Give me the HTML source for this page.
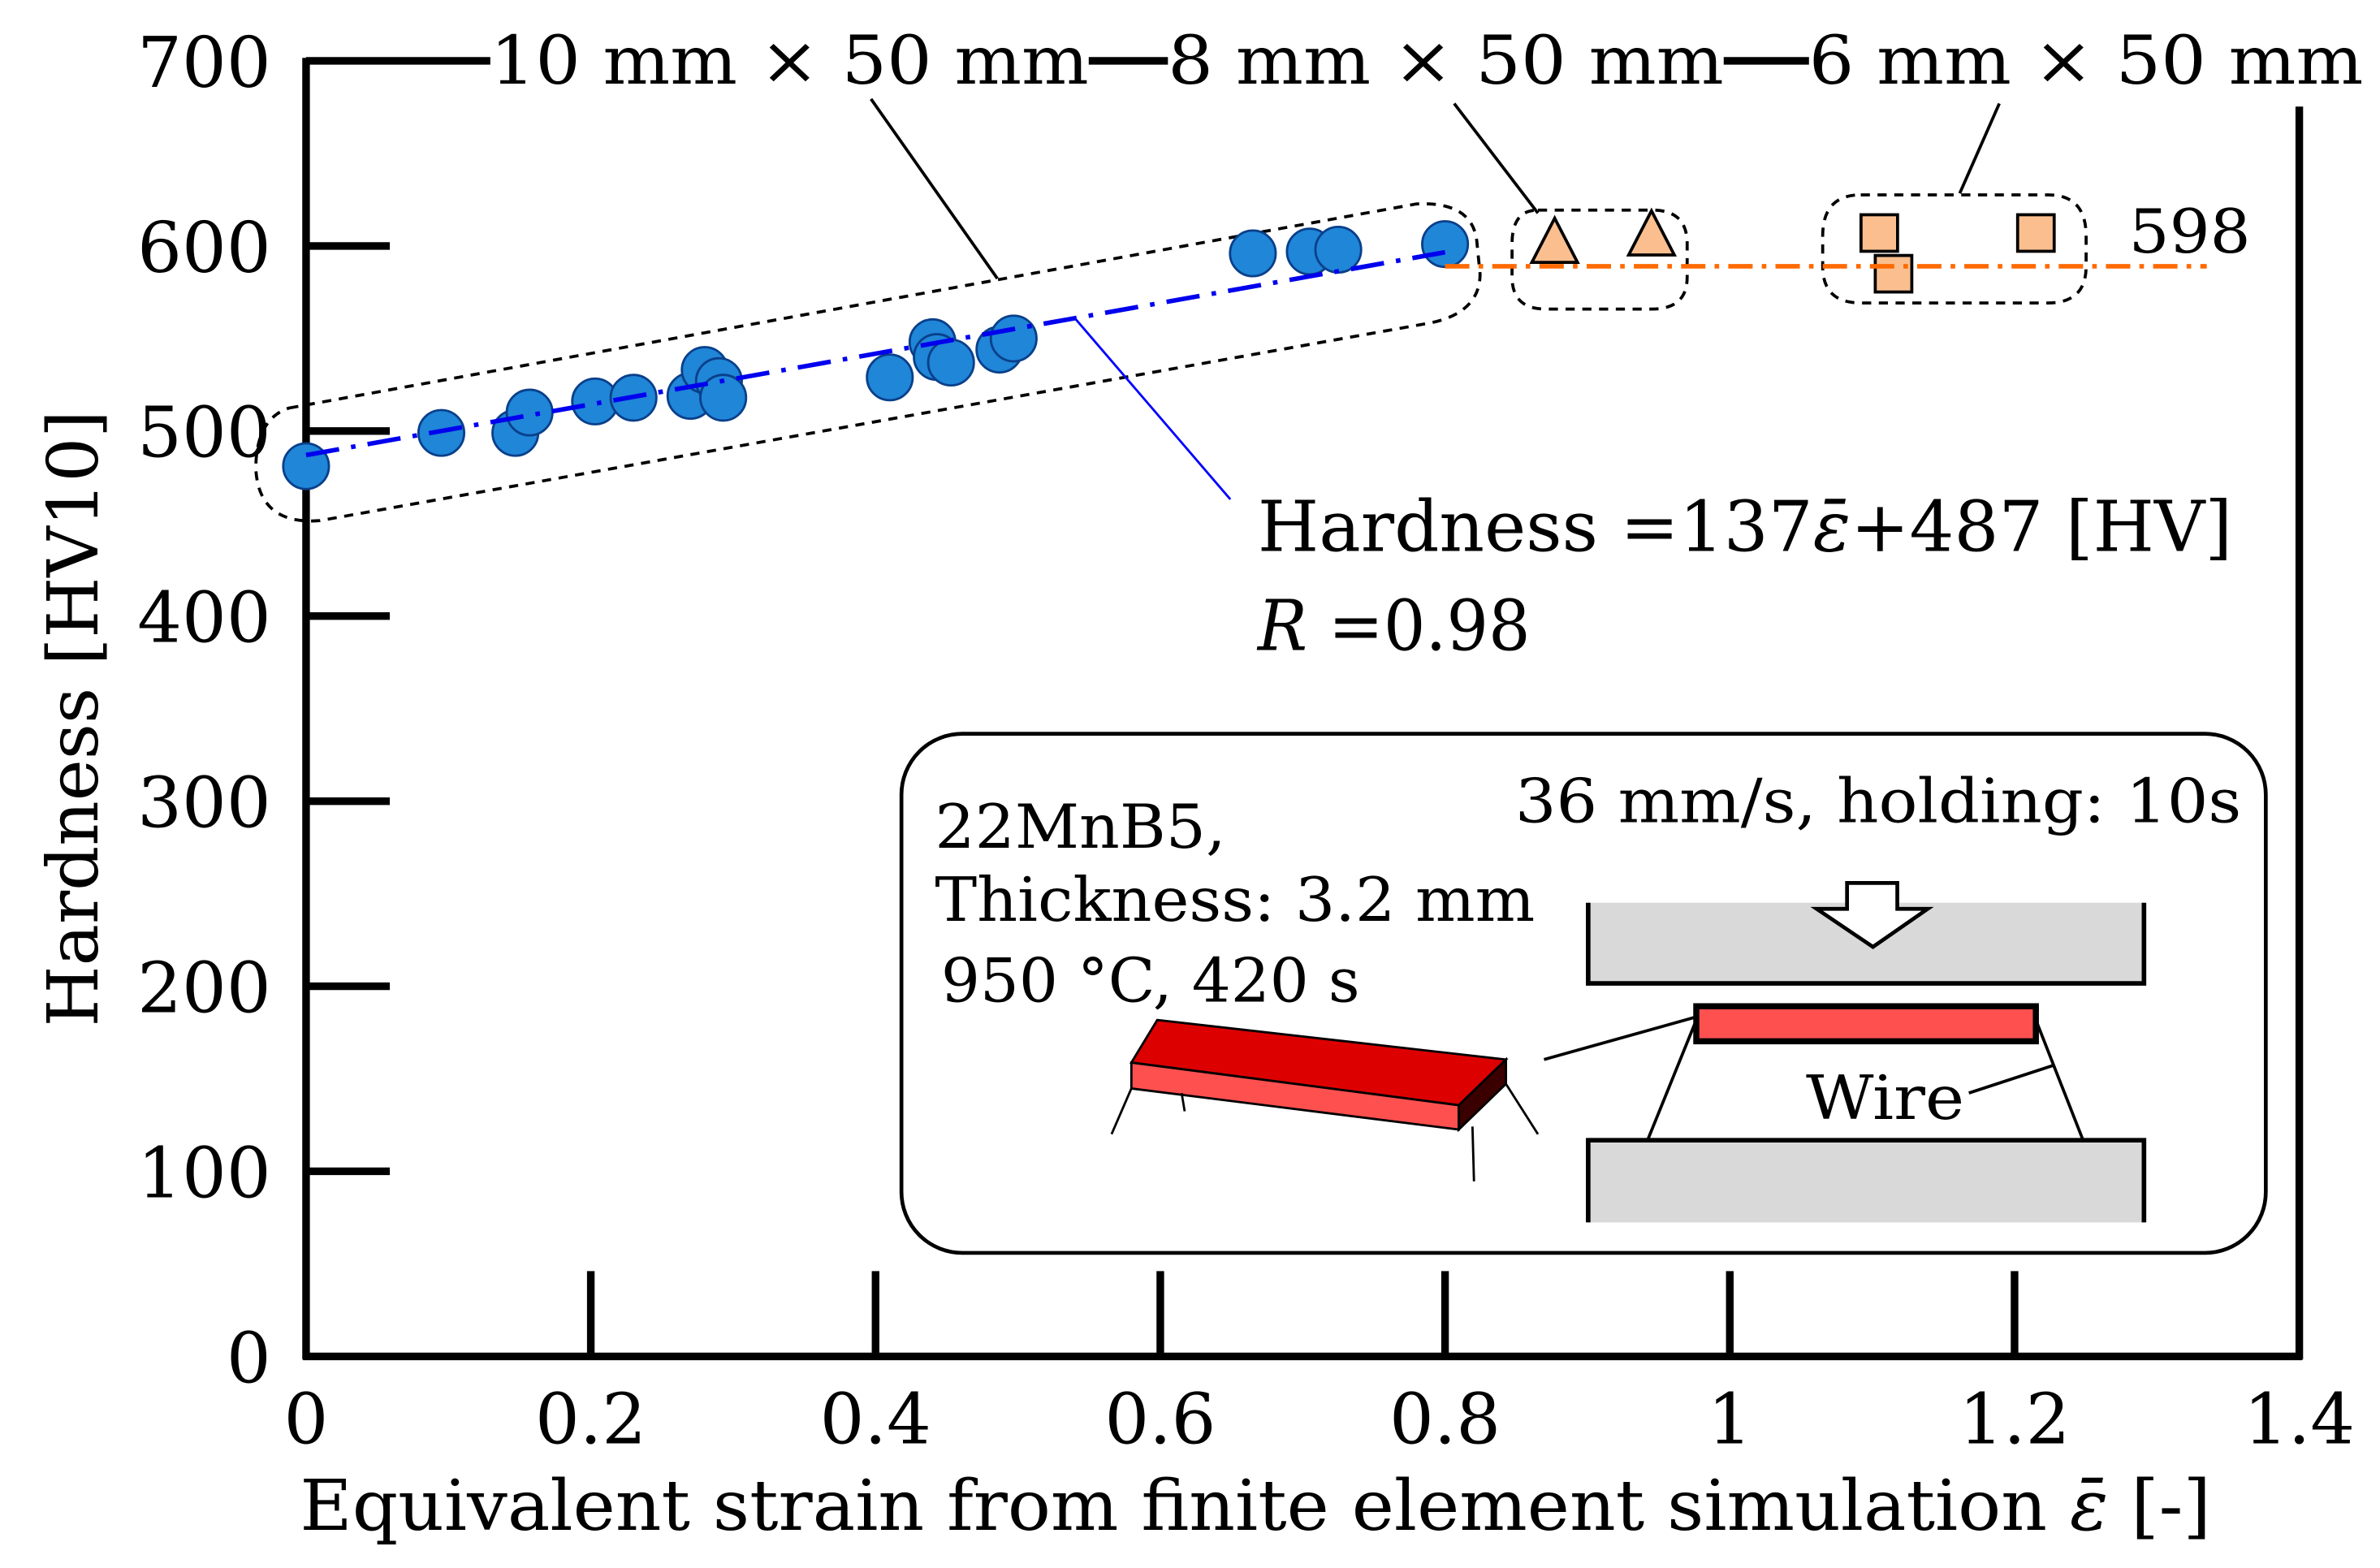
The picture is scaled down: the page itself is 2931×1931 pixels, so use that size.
<!DOCTYPE html>
<html><head><meta charset="utf-8"><style>
html,body{margin:0;padding:0;background:#fff}
svg{display:block}
text{font-family:"DejaVu Serif","Liberation Serif",serif;fill:#000}
</style></head><body>
<svg id="chart" width="2931" height="1931" viewBox="0 0 1563 1030" preserveAspectRatio="none" xmlns="http://www.w3.org/2000/svg">
<rect width="1563" height="1030" fill="#fff"/>
<g id="frame" stroke="#000" stroke-width="5" fill="none">
<line x1="201" y1="38" x2="201" y2="893"/>
<line x1="199" y1="891" x2="1512" y2="891"/>
<line x1="1510" y1="70" x2="1510" y2="893"/>
<line x1="201" y1="40" x2="322" y2="40"/>
<line x1="715" y1="40" x2="767" y2="40"/>
<line x1="1132" y1="40" x2="1188" y2="40"/>
</g>
<g id="ticks"></g>
<g id="envelopes" fill="none" stroke="#000" stroke-width="2" stroke-dasharray="6,5">
<path d="M190,268 L930,134 Q968,132 970,160 L972,180 Q972,205 940,212 L210,342 Q170,345 168,308 Q168,275 190,268 Z"/>
<path d="M1010,138 L1085,138 Q1108,138 1108,160 L1108,182 Q1108,203 1085,203 L1015,203 Q993,203 993,182 L993,160 Q993,138 1010,138 Z"/>
<path d="M1222,128 L1345,128 Q1370,128 1370,155 L1370,175 Q1370,199 1345,199 L1222,199 Q1197,199 1197,175 L1197,155 Q1197,128 1222,128 Z"/>
</g>
<g id="leaders" stroke="#000" stroke-width="2" fill="none">
<line x1="572" y1="65" x2="655" y2="183"/>
<line x1="955" y1="68" x2="1010" y2="140"/>
<line x1="1313" y1="68" x2="1287" y2="127"/>
<line x1="705" y1="208" x2="808" y2="328" stroke="#00f" stroke-width="1.5"/>
</g>
<g id="lines"></g>
<g id="marks"></g>
<g font-size="44">
<text x="322" y="55" textLength="393" lengthAdjust="spacingAndGlyphs">10 mm × 50 mm</text>
<text x="767" y="55" textLength="365" lengthAdjust="spacingAndGlyphs">8 mm × 50 mm</text>
<text x="1188" y="55" textLength="364" lengthAdjust="spacingAndGlyphs">6 mm × 50 mm</text>
</g>
<text x="1398" y="166" font-size="40" textLength="80" lengthAdjust="spacingAndGlyphs">598</text>
<text x="826" y="362" font-size="46" textLength="640" lengthAdjust="spacingAndGlyphs">Hardness =137<tspan font-style="italic">ε̄</tspan>+487 [HV]</text>
<text x="826" y="427" font-size="46" textLength="179" lengthAdjust="spacingAndGlyphs"><tspan font-style="italic">R</tspan> =0.98</text>
<text transform="translate(64,472) rotate(-90)" text-anchor="middle" font-size="46" textLength="405" lengthAdjust="spacingAndGlyphs">Hardness [HV10]</text>
<text x="197" y="1005" font-size="46" textLength="1255" lengthAdjust="spacingAndGlyphs">Equivalent strain from finite element simulation <tspan font-style="italic">ε̄</tspan> [-]</text>
<g id="inset">
<rect x="592" y="482" width="896" height="341" rx="40" fill="#fff" stroke="#000" stroke-width="2.5"/>
<text x="614" y="557" font-size="40" textLength="191" lengthAdjust="spacingAndGlyphs">22MnB5,</text>
<text x="614" y="605" font-size="40" textLength="394" lengthAdjust="spacingAndGlyphs">Thickness: 3.2 mm</text>
<text x="618" y="658" font-size="40" textLength="275" lengthAdjust="spacingAndGlyphs">950 °C, 420 s</text>
<text x="995" y="540" font-size="40" textLength="477" lengthAdjust="spacingAndGlyphs">36 mm/s, holding: 10s</text>
<rect x="1043" y="593" width="365" height="53" fill="#d9d9d9"/>
<path d="M1043,593 V646 H1408 V593" fill="none" stroke="#000" stroke-width="3"/>
<path d="M1213,580 H1246 V597 H1266 L1230,622 L1193,597 H1213 Z" fill="#fff" stroke="#000" stroke-width="2.5"/>
<rect x="1043" y="749" width="365" height="54" fill="#d9d9d9"/>
<path d="M1043,803 V749 H1408 V803" fill="none" stroke="#000" stroke-width="3"/>
<rect x="1114" y="661" width="223" height="23" fill="#ff5050" stroke="#000" stroke-width="4"/>
<line x1="1114" y1="670" x2="1082" y2="749" stroke="#000" stroke-width="2"/>
<line x1="1337" y1="670" x2="1368" y2="749" stroke="#000" stroke-width="2"/>
<line x1="1293" y1="718" x2="1348" y2="700" stroke="#000" stroke-width="2"/>
<line x1="1014" y1="696" x2="1114" y2="668" stroke="#000" stroke-width="2"/>
<text x="1186" y="735" font-size="40" textLength="104" lengthAdjust="spacingAndGlyphs">Wire</text>
<polygon points="743,698 760,670 989,696 958,726" fill="#dd0000" stroke="#000" stroke-width="1.5"/>
<polygon points="743,698 958,726 958,742 743,715" fill="#ff5050" stroke="#000" stroke-width="1.5"/>
<polygon points="958,726 989,696 989,712 958,742" fill="#3a0000" stroke="#000" stroke-width="1.5"/>
<line x1="743" y1="715" x2="730" y2="745" stroke="#000" stroke-width="1.5"/>
<line x1="776" y1="718" x2="778" y2="730" stroke="#000" stroke-width="1.5"/>
<line x1="967" y1="740" x2="968" y2="776" stroke="#000" stroke-width="1.5"/>
<line x1="989" y1="712" x2="1010" y2="745" stroke="#000" stroke-width="1.5"/>
</g>
</svg>
<script>
const xTicks = [0, 0.2, 0.4, 0.6, 0.8, 1, 1.2, 1.4];
const xTickLabels = ["0", "0.2", "0.4", "0.6", "0.8", "1", "1.2", "1.4"];
const yTicks = [0, 100, 200, 300, 400, 500, 600, 700];
const yTickLabels = ["0", "100", "200", "300", "400", "500", "600", "700"];
const circleX = [0, 0.095, 0.147, 0.157, 0.203, 0.23, 0.27, 0.28, 0.29, 0.293, 0.41, 0.44, 0.443, 0.453, 0.487, 0.497, 0.665, 0.705, 0.725, 0.8];
const circleY = [481, 499, 499, 510, 516, 518, 519, 533, 527, 518, 529, 548, 540, 537, 544, 550, 596, 597, 598, 601];
const triX = [0.877, 0.945];
const triY = [601, 605];
const sqX = [1.105, 1.115, 1.215];
const sqY = [607, 585, 607];
const fitSlope = 137;
const fitIntercept = 487;
const fitRange = [0, 0.8];
const plateauValue = 589;
const plateauRange = [0.8, 1.335];

const NS = "http://www.w3.org/2000/svg";
const xs = v => 201 + v * (1309 / 1.4);
const ys = v => 891 - v * (851 / 700);
function mk(tag, attrs, parent) {
  const e = document.createElementNS(NS, tag);
  for (const k in attrs) e.setAttribute(k, attrs[k]);
  parent.appendChild(e);
  return e;
}
const ticks = document.getElementById('ticks');
xTicks.forEach((t, i) => {
  if (i > 0 && i < xTicks.length - 1) {
    const l = mk('line', {x1: xs(t), y1: 891, x2: xs(t), y2: 835, stroke: '#000', 'stroke-width': 5}, ticks);
    
    
  }
  const tx = mk('text', {x: xs(t), y: 948, 'text-anchor': 'middle', 'font-size': 46}, ticks);
  tx.textContent = xTickLabels[i];
  
  
});
yTicks.forEach((t, i) => {
  if (i > 0 && i < yTicks.length - 1) {
    const l = mk('line', {x1: 201, y1: ys(t), x2: 256, y2: ys(t), stroke: '#000', 'stroke-width': 5}, ticks);
    
    
  }
  const tx = mk('text', {x: 178, y: ys(t) + 17, 'text-anchor': 'end', 'font-size': 46}, ticks);
  tx.textContent = yTickLabels[i];
  
  
});
const lines = document.getElementById('lines');
const marks = document.getElementById('marks');
circleX.forEach((x, i) => {
  const c = mk('circle', {cx: xs(x), cy: ys(circleY[i]), r: 15, fill: '#1f86d8', stroke: '#0a3f8a', 'stroke-width': 1.5}, marks);
  
  
});
const fit = mk('line', {x1: xs(fitRange[0]), y1: ys(fitIntercept + fitSlope * fitRange[0]), x2: xs(fitRange[1]), y2: ys(fitIntercept + fitSlope * fitRange[1]), stroke: '#0000ee', 'stroke-width': 3, 'stroke-dasharray': '22,8,3,8'}, marks);


triX.forEach((x, i) => {
  const cx = xs(x), cy = ys(triY[i]);
  const p = mk('polygon', {points: `${cx},${cy-17} ${cx-15},${cy+12} ${cx+15},${cy+12}`, fill: '#fbbf8f', stroke: '#000', 'stroke-width': 2}, marks);
  
  
});
sqX.forEach((x, i) => {
  const cx = xs(x), cy = ys(sqY[i]);
  const r = mk('rect', {x: cx - 12, y: cy - 12, width: 24, height: 24, fill: '#fbbf8f', stroke: '#000', 'stroke-width': 2}, marks);
  
  
});
const pl = mk('line', {x1: xs(plateauRange[0]), y1: ys(plateauValue), x2: xs(plateauRange[1]), y2: ys(plateauValue), stroke: '#ff6a00', 'stroke-width': 3, 'stroke-dasharray': '16,6,3,6'}, marks);


</script>
</body></html>
